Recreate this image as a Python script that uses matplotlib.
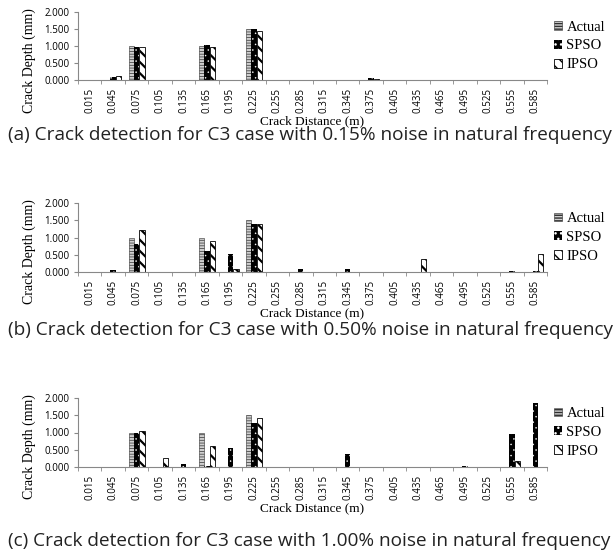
import numpy as np
import matplotlib
matplotlib.use("Agg")
import matplotlib.pyplot as plt
from matplotlib.patches import Patch

# crack distance categories (m)
distances = ["0.015", "0.045", "0.075", "0.105", "0.135", "0.165", "0.195",
             "0.225", "0.255", "0.285", "0.315", "0.345", "0.375", "0.405",
             "0.435", "0.465", "0.495", "0.525", "0.555", "0.585"]

# actual crack depth (mm), same for all three cases
actual = [0, 0, 1.0, 0, 0, 1.0, 0, 1.5, 0, 0, 0, 0, 0, 0, 0, 0, 0, 0, 0, 0]

# (a) 0.15% noise
spso_a = [0, 0.10, 0.96, 0, 0, 1.02, 0, 1.50, 0, 0, 0, 0, 0.06, 0, 0, 0, 0, 0, 0, 0]
ipso_a = [0, 0.13, 0.98, 0, 0, 0.98, 0, 1.45, 0, 0, 0, 0, 0.04, 0, 0, 0, 0, 0, 0, 0]

# (b) 0.50% noise
spso_b = [0, 0.05, 0.80, 0, 0, 0.62, 0.52, 1.38, 0, 0.08, 0, 0.08, 0, 0, 0, 0, 0, 0, 0.02, 0.02]
ipso_b = [0, 0, 1.22, 0, 0, 0.90, 0.10, 1.38, 0, 0, 0, 0, 0, 0, 0.38, 0, 0, 0, 0, 0.53]

# (c) 1.00% noise
spso_c = [0, 0, 1.00, 0, 0.10, 0.02, 0.55, 1.28, 0, 0, 0, 0.37, 0, 0, 0, 0, 0.02, 0, 0.95, 1.85]
ipso_c = [0, 0, 1.03, 0.25, 0, 0.60, 0, 1.42, 0, 0, 0, 0, 0, 0, 0, 0, 0, 0, 0.18, 0]

captions = ["(a) Crack detection for C3 case with 0.15% noise in natural frequency",
            "(b) Crack detection for C3 case with 0.50% noise in natural frequency",
            "(c) Crack detection for C3 case with 1.00% noise in natural frequency"]

fig = plt.figure(figsize=(6.16, 5.54), dpi=100)
W, H = 616, 554

# axes boxes in pixels: (left, top, right, bottom)
boxes = [(78, 12, 547, 80), (78, 203, 547, 272), (78, 398, 547, 467)]
caption_y = [135, 330, 541]

x = np.arange(len(distances))
bw = 0.23
serif = "Liberation Serif"

# style, hatch linewidth
styles = [(dict(facecolor="#cfcfcf", edgecolor="#303030", hatch="------", linewidth=0.4), 0.5),
          (dict(facecolor="black", edgecolor="white", hatch="...", linewidth=0), 0.3),
          (dict(facecolor="white", edgecolor="black", hatch="\\\\\\", linewidth=0.6), 1.6)]


def hatched(artists, hlw):
    for p in artists:
        if hasattr(p, "set_hatch_linewidth"):
            p.set_hatch_linewidth(hlw)


series = [(spso_a, ipso_a), (spso_b, ipso_b), (spso_c, ipso_c)]

for i, (box, (spso, ipso)) in enumerate(zip(boxes, series)):
    l, t, r, b = box
    ax = fig.add_axes([l / W, 1 - b / H, (r - l) / W, (b - t) / H])
    handles = []
    for k, (vals, name) in enumerate(zip([actual, spso, ipso], ["Actual", "SPSO", "IPSO"])):
        st, hlw = styles[k]
        with plt.rc_context({"hatch.linewidth": hlw}):
            bars = ax.bar(x + (k - 1) * bw, vals, bw, **st)
            hatched(bars, hlw)
            h = Patch(**st, label=name)
            hatched([h], hlw)
        handles.append(h)

    ax.set_xlim(-0.5, len(distances) - 0.5)
    ax.set_ylim(0, 2.0)
    ax.set_yticks([0, 0.5, 1.0, 1.5, 2.0])
    ax.set_yticklabels(["%.3f" % v for v in [0, 0.5, 1.0, 1.5, 2.0]],
                       family="Open Sans", fontsize=7)
    ax.set_xticks(x)
    ax.set_xticklabels(distances, rotation=90, family="Open Sans", fontsize=7)
    ax.set_xticks(np.arange(-0.5, len(distances)), minor=True)
    ax.tick_params(axis="x", which="major", length=0, pad=6)
    ax.tick_params(axis="x", which="minor", length=3, color="#888888")
    ax.tick_params(axis="y", length=3, color="#888888", pad=3)
    for s in ["top", "right"]:
        ax.spines[s].set_visible(False)
    for s in ["left", "bottom"]:
        ax.spines[s].set_color("#888888")
        ax.spines[s].set_linewidth(0.8)

    ax.set_ylabel("Crack Depth (mm)", family=serif, fontsize=10)
    ax.yaxis.set_label_coords(-0.09, 0.29)
    ax.set_xlabel("Crack Distance (m)", family=serif, fontsize=9.5, labelpad=1)

    ax.legend(handles=handles, loc="center left", bbox_to_anchor=(1.015, 0.5),
              frameon=False, prop={"family": serif, "size": 10.5},
              handlelength=0.55, handleheight=0.55, handletextpad=0.3,
              labelspacing=0.4, borderaxespad=0, borderpad=0)

    fig.text(8 / W, 1 - caption_y[i] / H, captions[i], family="Open Sans",
             fontsize=13.7, va="center", ha="left", color="#222222")

fig.savefig("out.png", dpi=100)
